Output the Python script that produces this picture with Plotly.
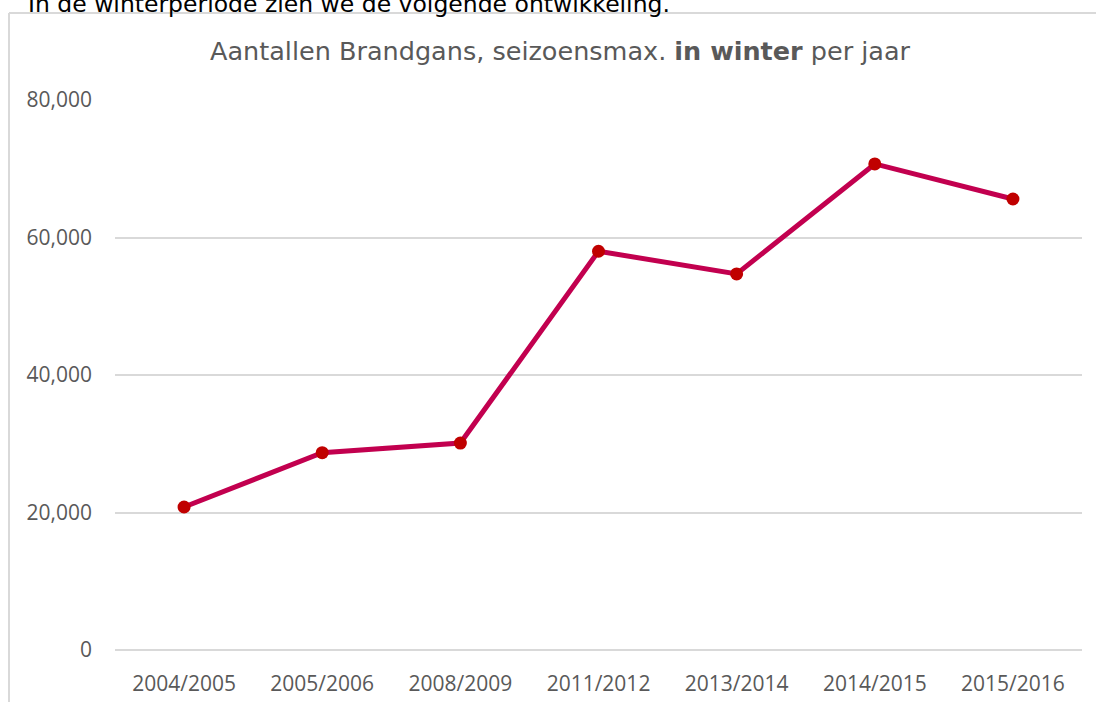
import plotly.graph_objects as go

seasons = ["2004/2005", "2005/2006", "2008/2009", "2011/2012", "2013/2014", "2014/2015", "2015/2016"]
counts = [20800, 28700, 30100, 58000, 54700, 70700, 65600]
y_ticks = [0, 20000, 40000, 60000, 80000]

W, H = 1096, 702
ml, mr, mt, mb = 115, 14, 100, 52
pw, ph = W - ml - mr, H - mt - mb

def px(x):
    return (x - ml) / pw

def py(y):
    return (H - mb - y) / ph

fig = go.Figure()
fig.add_trace(go.Scatter(
    x=seasons, y=counts, mode="lines+markers",
    line=dict(color="#C2004F", width=5),
    marker=dict(color="#C00000", size=13),
    hoverinfo="x+y", showlegend=False,
))

fig.update_layout(
    width=W, height=H,
    margin=dict(l=ml, r=mr, t=mt, b=mb, autoexpand=False),
    paper_bgcolor="white", plot_bgcolor="white",
    font=dict(family="Open Sans", color="#595959"),
    xaxis=dict(type="category", showgrid=False, showline=False, zeroline=False,
               ticks="", ticklabelstandoff=19, automargin=False,
               tickfont=dict(size=21, color="#595959"), range=[-0.5, 6.5]),
    yaxis=dict(range=[0, 80000], tickvals=y_ticks, tickformat=",", showgrid=True,
               gridcolor="#D9D9D9", gridwidth=1.5, zeroline=True, zerolinecolor="#D9D9D9",
               zerolinewidth=1.5, showline=False, ticks="", ticklabelstandoff=22,
               automargin=False, tickfont=dict(size=21, color="#595959")),
    annotations=[
        dict(text="Aantallen Brandgans, seizoensmax. <b>in winter</b> per jaar",
             xref="paper", yref="paper", x=px(560), y=py(51), xanchor="center", yanchor="middle",
             showarrow=False, font=dict(family="DejaVu Sans", size=25.5, color="#595959")),
        dict(text="In de winterperiode zien we de volgende ontwikkeling.",
             xref="paper", yref="paper", x=px(26), y=py(4), xanchor="left", yanchor="middle",
             showarrow=False, font=dict(family="DejaVu Sans", size=23.5, color="#000000")),
    ],
    shapes=[
        dict(type="line", xref="paper", yref="paper", x0=px(9), x1=px(1100), y0=py(13), y1=py(13),
             line=dict(color="#D9D9D9", width=2)),
        dict(type="line", xref="paper", yref="paper", x0=px(9), x1=px(9), y0=py(13), y1=py(710),
             line=dict(color="#D9D9D9", width=2)),
    ],
)

fig.write_html("out.html", config={"displayModeBar": False},
               post_script="document.body.style.margin='0';")
